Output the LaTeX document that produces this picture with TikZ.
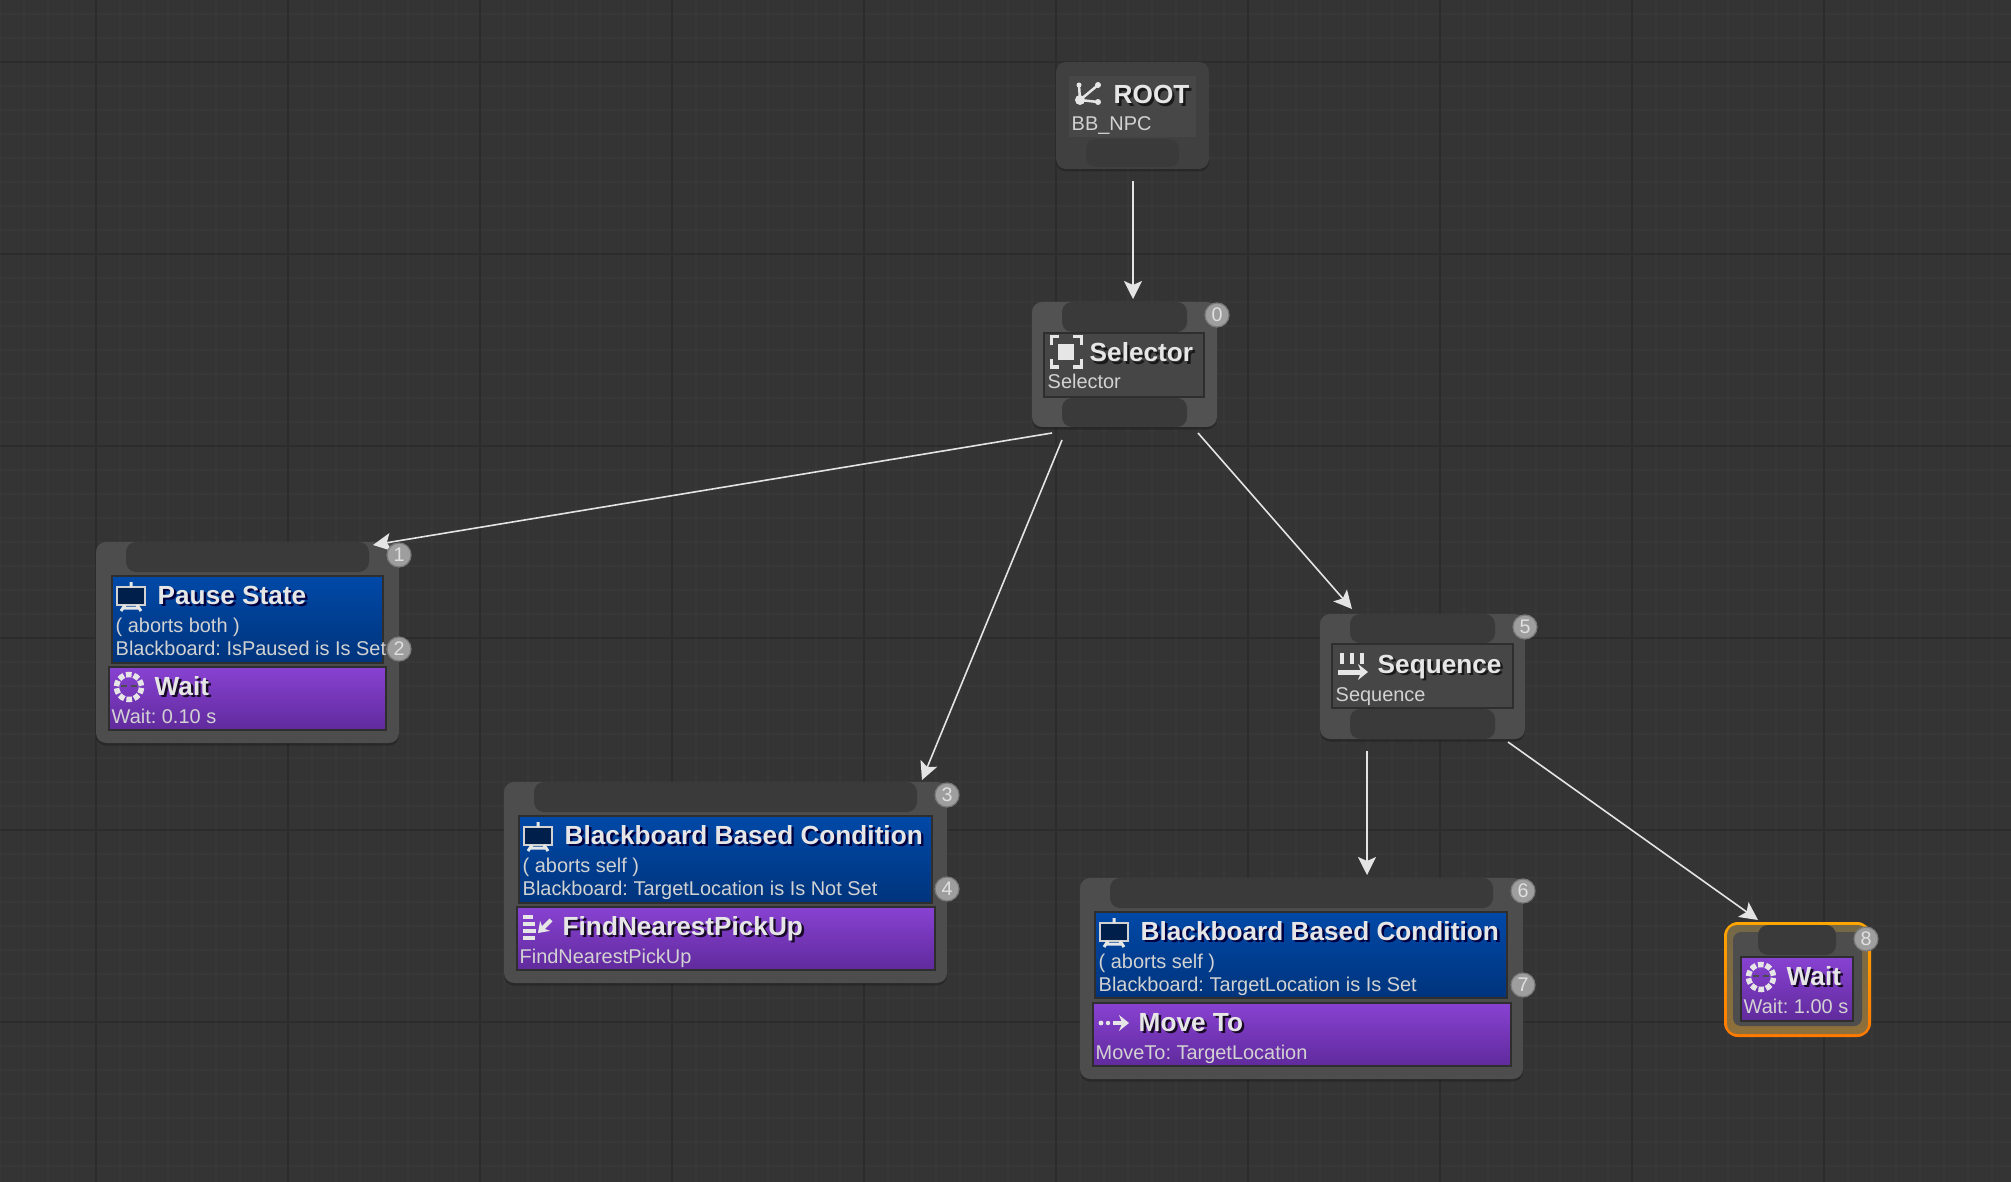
\documentclass[tikz,border=0pt]{standalone}
\usepackage{fontspec}
\setmainfont{Liberation Sans}
\usetikzlibrary{arrows.meta,calc,shadows}
\frenchspacing

\definecolor{bgcol}{HTML}{343434}
\definecolor{minorcol}{HTML}{383838}
\definecolor{majorcol}{HTML}{2C2C2C}
\definecolor{bodycol}{HTML}{4D4D4D}
\definecolor{padcol}{HTML}{3A3A3A}
\definecolor{innercol}{HTML}{464646}
\definecolor{edgecol}{HTML}{2E2E2E}
\definecolor{titlecol}{HTML}{E6E6E6}
\definecolor{subcol}{HTML}{D2D2D2}
\definecolor{bluetop}{HTML}{0049A8}
\definecolor{bluebot}{HTML}{00347C}
\definecolor{purpletop}{HTML}{8842D2}
\definecolor{purplebot}{HTML}{602A9C}
\definecolor{wirecol}{HTML}{E4E4E4}
\definecolor{ringtop}{HTML}{746848}
\definecolor{ringbot}{HTML}{8E703A}

\tikzset{
    bodybox/.style={fill=bodycol, rounded corners=0.1cm, inner sep=0pt, outer sep=0pt,
        drop shadow={shadow xshift=0cm, shadow yshift=-0.025cm, fill=black, opacity=0.22}},
    padbox/.style={fill=padcol, rounded corners=0.1cm, inner sep=0pt, outer sep=0pt},
    innerbox/.style={fill=innercol, draw=edgecol, line width=0.012cm, inner sep=0pt, outer sep=0pt},
    bluebox/.style={top color=bluetop, bottom color=bluebot, draw=edgecol, line width=0.012cm, inner sep=0pt, outer sep=0pt},
    purplebox/.style={top color=purpletop, bottom color=purplebot, draw=edgecol, line width=0.012cm, inner sep=0pt, outer sep=0pt},
    titletext/.style={anchor=base west, inner sep=0pt, text=titlecol, font=\bfseries\fontsize{7.45}{9}\selectfont},
    subtext/.style={anchor=base west, inner sep=0pt, text=subcol, font=\fontsize{5.67}{7}\selectfont},
    badge/.style={circle, fill=black!38, draw=black!52, line width=0.012cm, minimum size=0.24cm, inner sep=0pt,
        text=black!12, font=\fontsize{5.6}{6}\selectfont},
    wire/.style={draw=wirecol, line width=0.016cm, -{Stealth[length=0.18cm,width=0.18cm,inset=0.04cm]}},
    iconline/.style={draw=titlecol, line width=0.03cm}
}

\newcommand{\panel}[6]{
    \pgfmathsetmacro{\panelw}{#5-#3}
    \pgfmathsetmacro{\panelh}{#6-#4}
    \node[#2, anchor=north west, minimum width=\panelw*0.01cm, minimum height=\panelh*0.01cm] (#1) at (#3,#4) {};
}
\newcommand{\shadowed}[2]{\rlap{\kern0.7pt\raisebox{-0.7pt}{\color{#1}#2}}#2}

\newcommand{\decorator}[8]{
    \panel{#1}{bluebox}{#2}{#3}{#4}{#5}
    \node[titletext] (#1title) at (#2+45,#3+28) {\shadowed{black!75!blue}{#6}};
    \node[subtext] (#1abort) at (#2+3,#3+56) {#7};
    \node[subtext] (#1desc) at (#2+3,#3+79) {#8};
    \iconboard{#2+19}{#3+20}
}
\newcommand{\tasknode}[7]{
    \panel{#1}{purplebox}{#2}{#3}{#4}{#5}
    \node[titletext] (#1title) at (#2+45,#3+28) {\shadowed{black!75!purplebot}{#6}};
    \node[subtext] (#1desc) at (#2+2,#3+56) {#7};
}

\newcommand{\iconboard}[2]{
    \begin{scope}[shift={(#1,#2)}]
        \draw[fill=bluebot!60!black, draw=subcol, line width=0.028cm] (-14,-9) rectangle (14,9);
        \draw[iconline] (0,-14) -- (0,-9) (-6,9) -- (-10,15) (6,9) -- (10,15) (-9,12) -- (9,12);
    \end{scope}
}
\newcommand{\iconwait}[2]{
    \begin{scope}[shift={(#1,#2)}]
        \foreach \ang in {0,36,...,324} {
            \draw[iconline, line width=0.055cm] ({\ang+4}:12.5) arc[start angle=\ang+4, end angle=\ang+30, radius=12.5];
        }
        \draw[black!70, line width=0.015cm] (-8,-1) -- (-2,-1) (2,-1) -- (8,-1);
    \end{scope}
}

\begin{document}
\begin{tikzpicture}[x=0.01cm,y=-0.01cm]

% -------------------------
% Background grid
% -------------------------
\useasboundingbox (0,0) rectangle (2011,1182);
\fill[bgcol] (0,0) rectangle (2011,1182);
\foreach \i in {0,...,83} {
    \draw[minorcol, line width=0.015cm] (\i*24,0) -- (\i*24,1182);
}
\foreach \i in {0,...,48} {
    \draw[minorcol, line width=0.015cm] (0,14+\i*24) -- (2011,14+\i*24);
}
\foreach \i in {0,...,10} {
    \draw[majorcol, line width=0.016cm] (96+\i*192,0) -- (96+\i*192,1182);
}
\foreach \i in {0,...,5} {
    \draw[majorcol, line width=0.016cm] (0,62+\i*192) -- (2011,62+\i*192);
}

% -------------------------
% Root
% -------------------------
\panel{rootbody}{bodybox, fill=black!75}{1056}{62}{1209}{169}
\panel{rootinner}{fill=black!72, inner sep=0pt, outer sep=0pt}{1069}{76}{1196}{137}
\panel{rootout}{padbox}{1086}{139}{1179}{167}
\node[titletext] (roottitle) at (1113,104) {\shadowed{black!90}{ROOT}};
\node[subtext] (rootdesc) at (1071,131) {BB\_NPC};
\draw[iconline, line width=0.025cm] (1079,85) -- (1080,100) -- (1098,85) (1080,100) -- (1098,102);
\fill[titlecol] (1080,100) circle[radius=5] (1098,85) circle[radius=3] (1098,102) circle[radius=3] (1079,85) circle[radius=2.5];

% -------------------------
% Selector
% -------------------------
\panel{selbody}{bodybox, fill=black!68}{1032}{302}{1217}{427}
\panel{selin}{padbox}{1062}{302}{1187}{332}
\panel{selout}{padbox}{1062}{398}{1187}{427}
\panel{selinner}{innerbox}{1044}{333}{1204}{397}
\node[titletext] (seltitle) at (1089,362) {\shadowed{black!90}{Selector}};
\node[subtext] (seldesc) at (1047,389) {Selector};
\fill[titlecol] (1058,344) rectangle (1074,360);
\draw[iconline, line width=0.03cm] (1051,345) -- (1051,337) -- (1059,337) (1073,337) -- (1081,337) -- (1081,345)
    (1081,359) -- (1081,367) -- (1073,367) (1059,367) -- (1051,367) -- (1051,359);

% -------------------------
% Pause State
% -------------------------
\panel{pausebody}{bodybox}{96}{542}{399}{743}
\panel{pausein}{padbox}{126}{542}{369}{572}
\decorator{pausecond}{112}{576}{383}{663}{Pause State}{( aborts both )}{Blackboard: IsPaused is Is Set}
\tasknode{pausewait}{109}{667}{386}{730}{Wait}{Wait: 0.10 s}
\iconwait{129}{687}

% -------------------------
% FindNearestPickUp
% -------------------------
\panel{findbody}{bodybox}{504}{782}{947}{983}
\panel{findin}{padbox}{534}{782}{917}{812}
\decorator{findcond}{519}{816}{932}{903}{Blackboard Based Condition}{( aborts self )}{Blackboard: TargetLocation is Is Not Set}
\tasknode{findtask}{517}{907}{935}{970}{FindNearestPickUp}{FindNearestPickUp}
\foreach \row/\barlen in {0/10,1/12,2/13,3/12} {
    \fill[titlecol] (523,915+\row*7) rectangle ++(\barlen,4);
}
\draw[iconline, line width=0.04cm, -{Stealth[length=0.1cm,width=0.14cm]}] (551,920) -- (538,933);

% -------------------------
% Sequence
% -------------------------
\panel{seqbody}{bodybox}{1320}{614}{1525}{739}
\panel{seqin}{padbox}{1350}{614}{1495}{643}
\panel{seqout}{padbox}{1350}{709}{1495}{739}
\panel{seqinner}{innerbox}{1332}{644}{1513}{708}
\node[titletext] (seqtitle) at (1377,673) {\shadowed{black!90}{Sequence}};
\node[subtext] (seqdesc) at (1335,701) {Sequence};
\foreach \barx in {1342,1352,1362} {
    \draw[iconline, line width=0.045cm] (\barx,653) -- (\barx,664);
}
\draw[iconline, line width=0.05cm, -{Stealth[length=0.1cm,width=0.16cm]}] (1338,672) -- (1368,672);

% -------------------------
% Move To
% -------------------------
\panel{movebody}{bodybox}{1080}{878}{1523}{1079}
\panel{movein}{padbox}{1110}{878}{1493}{908}
\decorator{movecond}{1095}{912}{1507}{998}{Blackboard Based Condition}{( aborts self )}{Blackboard: TargetLocation is Is Set}
\tasknode{movetask}{1093}{1003}{1511}{1066}{Move To}{MoveTo: TargetLocation}
\fill[titlecol] (1101,1023) circle[radius=2.4] (1108,1023) circle[radius=2.2];
\draw[iconline, line width=0.045cm, -{Stealth[length=0.1cm,width=0.16cm]}] (1113,1023) -- (1129,1023);

% -------------------------
% Wait (selected)
% -------------------------
\panel{waitglow}{top color=orange!70!yellow, bottom color=orange!95!red, rounded corners=0.14cm, inner sep=0pt, outer sep=0pt}{1724}{922}{1871}{1037}
\panel{waitring}{top color=ringtop, bottom color=ringbot, rounded corners=0.1cm, inner sep=0pt, outer sep=0pt}{1727}{925}{1868}{1034}
\panel{waitbody}{fill=bodycol, rounded corners=0.08cm, inner sep=0pt, outer sep=0pt}{1733}{932}{1862}{1026}
\panel{waitin}{padbox}{1758}{925}{1836}{955}
\tasknode{waittask}{1741}{957}{1853}{1021}{Wait}{Wait: 1.00 s}
\iconwait{1761}{977}

% -------------------------
% Wires
% -------------------------
\draw[wire] ($(rootout.south)+(0.5,14)$) -- ($(selin.north)+(8.5,-3)$);
\draw[wire] ($(selout.south west)+(-10,6)$) -- ($(pausein.north east)+(4,3)$);
\draw[wire] ($(selout.south west)+(0,13)$) -- ($(findin.north east)+(5,-2)$);
\draw[wire] ($(selout.south east)+(11,6)$) -- ($(seqin.north west)+(2,-5)$);
\draw[wire] ($(seqout.south west)+(17,12)$) -- ($(movein.north)+(65.5,-3)$);
\draw[wire] ($(seqout.south east)+(13,3)$) -- ($(waitin.north west)+(0,-5)$);

% -------------------------
% Execution order badges
% -------------------------
\node[badge] (badge0) at (1217,315) {0};
\node[badge] (badge1) at (399,555) {1};
\node[badge] (badge2) at (399,649) {2};
\node[badge] (badge3) at (947,795) {3};
\node[badge] (badge4) at (947,889) {4};
\node[badge] (badge5) at (1525,627) {5};
\node[badge] (badge6) at (1523,891) {6};
\node[badge] (badge7) at (1523,985) {7};
\node[badge] (badge8) at (1866,939) {8};

\end{tikzpicture}
\end{document}
